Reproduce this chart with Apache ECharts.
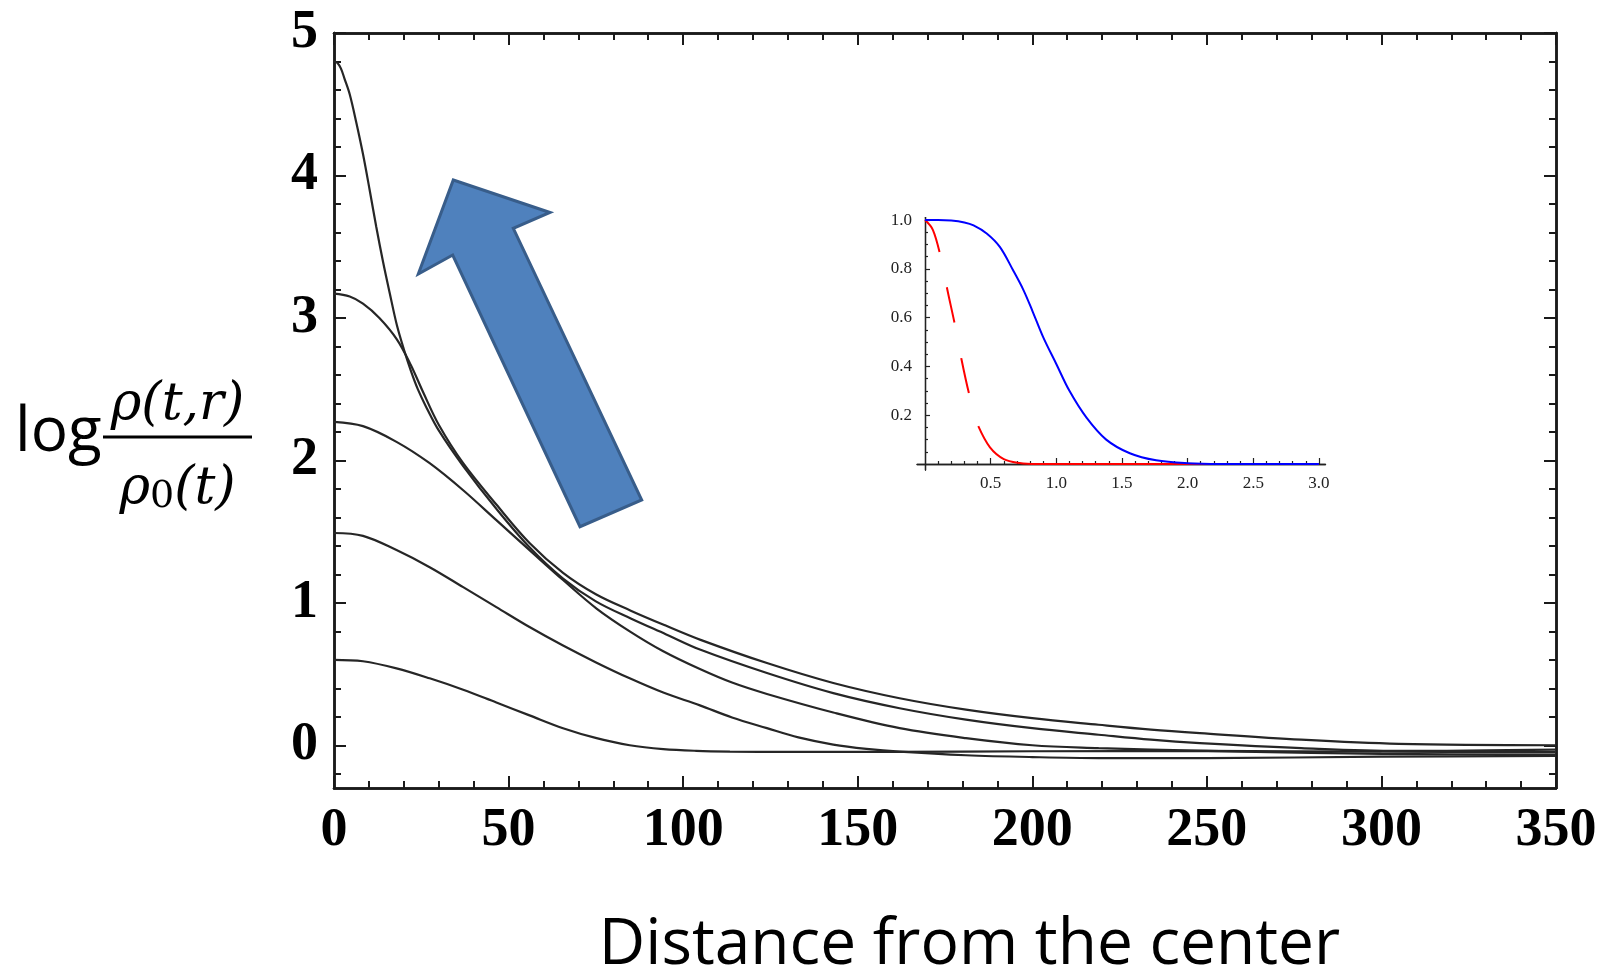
<!DOCTYPE html>
<html>
<head>
<meta charset="utf-8">
<script src="https://cdn.jsdelivr.net/npm/echarts@6/dist/echarts.min.js"></script>
<style>
html,body{margin:0;padding:0;background:#fff;}
#chart{width:1606px;height:977px;}
</style>
</head>
<body>
<div id="chart"></div>
<script>
// ---- main plot data: [distance, log density ratio] ----
const curveA = [[0,4.80],[1,4.79],[2,4.75],[3,4.68],[4.5,4.57],[6.4,4.37],[8.3,4.15],[10.2,3.90],[12.1,3.64],[14,3.40],[16,3.17],[18,2.95],[20,2.78],[22,2.63],[24,2.50],[26.5,2.37],[30,2.21],[37,1.96],[46.5,1.66],[56,1.39],[65.6,1.17],[75,1.01],[85,0.89],[95,0.78],[105,0.67],[124,0.507],[143,0.366],[162,0.26],[181,0.18],[200,0.12],[219,0.074],[234,0.039],[248,0.015],[277,-0.02],[305,-0.04],[350,-0.03]];
const curveB = [[0,3.17],[4.5,3.15],[8.3,3.10],[13,3.00],[18,2.85],[22,2.67],[25.5,2.48],[30,2.25],[37,1.98],[46.5,1.69],[56,1.42],[65.6,1.21],[75,1.06],[85,0.945],[95,0.84],[105,0.74],[124,0.577],[143,0.437],[162,0.33],[181,0.25],[200,0.19],[219,0.144],[234,0.11],[248,0.085],[277,0.039],[305,0.01],[350,0.0]];
const curveC = [[0,2.27],[8.3,2.24],[17.9,2.13],[27.4,1.98],[37,1.79],[46.5,1.58],[56,1.37],[65.6,1.16],[75.2,0.96],[84.7,0.80],[94.3,0.66],[104.8,0.535],[114,0.44],[124,0.36],[143,0.23],[162,0.12],[181,0.05],[200,0.0],[219,-0.02],[234,-0.03],[260,-0.045],[300,-0.06],[350,-0.065]];
const curveD = [[0,1.49],[8.3,1.47],[17.9,1.37],[27.4,1.25],[37,1.11],[46.5,0.97],[56,0.83],[65.6,0.70],[75.2,0.58],[84.7,0.47],[94.3,0.37],[104.8,0.28],[114,0.195],[124,0.12],[133,0.055],[143,0.005],[152.5,-0.025],[162,-0.045],[181,-0.07],[200,-0.083],[219,-0.09],[250,-0.09],[300,-0.08],[350,-0.075]];
const curveE = [[0,0.60],[8.3,0.59],[17.9,0.54],[27.4,0.47],[37,0.39],[46.5,0.30],[56,0.21],[65.6,0.12],[75.2,0.05],[84.7,0.0],[94.3,-0.027],[103.8,-0.039],[113.4,-0.044],[130,-0.047],[160,-0.046],[200,-0.042],[250,-0.04],[300,-0.045],[350,-0.048]];

// ---- main axes ticks ----
const xMajor = [0,50,100,150,200,250,300,350];
const xMinor = [10,20,30,40,60,70,80,90,110,120,130,140,160,170,180,190,210,220,230,240,260,270,280,290,310,320,330,340];
const yMajor = [0,1,2,3,4,5];
const yMinor = [-0.2,0.2,0.4,0.6,0.8,1.2,1.4,1.6,1.8,2.2,2.4,2.6,2.8,3.2,3.4,3.6,3.8,4.2,4.4,4.6,4.8];

// ---- inset data ----
const insetBlue = [[0,1],[0.1,1],[0.2,0.998],[0.3,0.99],[0.37,0.978],[0.47,0.945],[0.57,0.89],[0.67,0.795],[0.75,0.713],[0.82,0.625],[0.9,0.52],[1.0,0.41],[1.1,0.30],[1.23,0.19],[1.38,0.10],[1.56,0.044],[1.76,0.015],[2.0,0.003],[2.25,0],[3.0,0]];
const insetRedDashed = [[0,1],[0.06,0.96],[0.119,0.85],[0.172,0.71],[0.228,0.57],[0.27,0.45],[0.337,0.285],[0.406,0.155]];
const insetRedSolid = [[0.406,0.155],[0.495,0.068],[0.6,0.02],[0.72,0.004],[0.85,0],[3.0,0]];
const insetXMajor = [0.5,1.0,1.5,2.0,2.5,3.0];
const insetXMinor = [0.1,0.2,0.3,0.4,0.6,0.7,0.8,0.9,1.1,1.2,1.3,1.4,1.6,1.7,1.8,1.9,2.1,2.2,2.3,2.4,2.6,2.7,2.8,2.9];
const insetYMajor = [0.2,0.4,0.6,0.8,1.0];
const insetYMinor = [0.05,0.1,0.15,0.25,0.3,0.35,0.45,0.5,0.55,0.65,0.7,0.75,0.85,0.9,0.95];

// ---- text ----
const xTitle = 'Distance from the center';
const yTitleLog = 'log';
const yTitleNum = 'ρ(t,r)';

const frameColor = '#1a1a1a';
const labelStyle = {fontFamily:'Liberation Serif', fontWeight:'bold', fontSize:54, color:'#000'};
const insetLabel = {fontFamily:'Liberation Serif', fontSize:17, color:'#222'};

function mainX(pos, ticks, len, labels){
  return {type:'value', gridIndex:0, position:pos, min:0, max:350,
    axisLine:{show:true, onZero:false, lineStyle:{color:frameColor, width:2.5}},
    axisTick:{show:true, inside:true, length:len, customValues:ticks, lineStyle:{color:frameColor, width:2}},
    axisLabel:labels ? Object.assign({show:true, margin:16, customValues:xMajor}, labelStyle) : {show:false},
    splitLine:{show:false}};
}
function mainY(pos, ticks, len, labels){
  return {type:'value', gridIndex:0, position:pos, min:-0.3, max:5,
    axisLine:{show:true, onZero:false, lineStyle:{color:frameColor, width:2.5}},
    axisTick:{show:true, inside:true, length:len, customValues:ticks, lineStyle:{color:frameColor, width:2}},
    axisLabel:labels ? Object.assign({show:true, margin:16, customValues:yMajor}, labelStyle) : {show:false},
    splitLine:{show:false}};
}
function insetX(ticks, len, labels){
  return {type:'value', gridIndex:1, position:'bottom', min:-0.06, max:3.05,
    axisLine:{show:true, onZero:true, onZeroAxisIndex:4, lineStyle:{color:'#222', width:1.3}},
    axisTick:{show:true, inside:true, length:len, customValues:ticks, lineStyle:{color:'#222', width:1.2}},
    axisLabel:labels ? Object.assign({show:true, margin:5, customValues:insetXMajor, formatter:v=>Number(v).toFixed(1)}, insetLabel) : {show:false},
    splitLine:{show:false}};
}
function insetY(ticks, len, labels){
  return {type:'value', gridIndex:1, position:'left', min:-0.025, max:1.01,
    axisLine:{show:true, onZero:true, onZeroAxisIndex:4, lineStyle:{color:'#222', width:1.3}},
    axisTick:{show:true, inside:true, length:len, customValues:ticks, lineStyle:{color:'#222', width:1.2}},
    axisLabel:labels ? Object.assign({show:true, margin:5, customValues:insetYMajor, formatter:v=>Number(v).toFixed(1)}, insetLabel) : {show:false},
    splitLine:{show:false}};
}

function mainLine(data){
  return {type:'line', xAxisIndex:0, yAxisIndex:0, data:data, showSymbol:false, symbol:'none',
    smooth:0.35, lineStyle:{color:'#262626', width:2.2}, z:3, silent:true};
}
function insetLine(data, color, dash, z){
  return {type:'line', xAxisIndex:4, yAxisIndex:4, data:data, showSymbol:false, symbol:'none',
    smooth:0.35, lineStyle:{color:color, width:2, type:dash}, z:z, silent:true};
}

const chart = echarts.init(document.getElementById('chart'), null, {renderer:'canvas'});
chart.setOption({
  animation:false,
  backgroundColor:'#fff',
  grid:[
    {left:334, top:33, width:1222, height:755, containLabel:false},
    {left:917.1, top:217.6, width:408.4, height:252.5, containLabel:false}
  ],
  xAxis:[
    mainX('bottom', xMajor, 12, true),
    mainX('bottom', xMinor, 7, false),
    mainX('top', xMajor, 12, false),
    mainX('top', xMinor, 7, false),
    insetX(insetXMajor, 6, true),
    insetX(insetXMinor, 3, false)
  ],
  yAxis:[
    mainY('left', yMajor, 12, true),
    mainY('left', yMinor, 7, false),
    mainY('right', yMajor, 12, false),
    mainY('right', yMinor, 7, false),
    insetY(insetYMajor, 5, true),
    insetY(insetYMinor, 3, false)
  ],
  series:[
    mainLine(curveE), mainLine(curveD), mainLine(curveC), mainLine(curveB), mainLine(curveA),
    insetLine(insetRedDashed, '#ff0000', [36,36], 4),
    insetLine(insetRedSolid, '#ff0000', 'solid', 4),
    insetLine(insetBlue, '#0000ff', 'solid', 5)
  ],
  graphic:[
    {type:'polygon', z:100,
      shape:{points:[[453.3,180],[550,212.5],[513.3,228.3],[641.7,500],[580,526.7],[452.7,255],[418.3,274]]},
      style:{fill:'#4f81bd', stroke:'#385d8a', lineWidth:3}},
    {type:'text', z:100, style:{text:xTitle, x:969.5, y:946, align:'center', verticalAlign:'middle',
      font:'64px "Open Sans"', fill:'#000'}},
    {type:'text', z:100, style:{text:yTitleLog, x:15, y:433, align:'left', verticalAlign:'middle',
      font:'62px "Open Sans"', fill:'#000'}},
    {type:'text', z:100, style:{text:yTitleNum, x:177.5, y:405, align:'center', verticalAlign:'middle',
      font:'italic 52px "DejaVu Serif"', fill:'#000'}},
    {type:'text', z:100, style:{text:'{a|ρ}{b|0}{a|(t)}', x:177.5, y:489, align:'center', verticalAlign:'middle',
      rich:{
        a:{fontFamily:'DejaVu Serif', fontStyle:'italic', fontSize:52, lineHeight:54, fill:'#000'},
        b:{fontFamily:'DejaVu Serif', fontSize:38, lineHeight:16, verticalAlign:'bottom', fill:'#000'}
      }}},
    {type:'line', z:100, shape:{x1:103, y1:437, x2:252, y2:437}, style:{stroke:'#000', lineWidth:3}}
  ]
});
</script>
</body>
</html>
